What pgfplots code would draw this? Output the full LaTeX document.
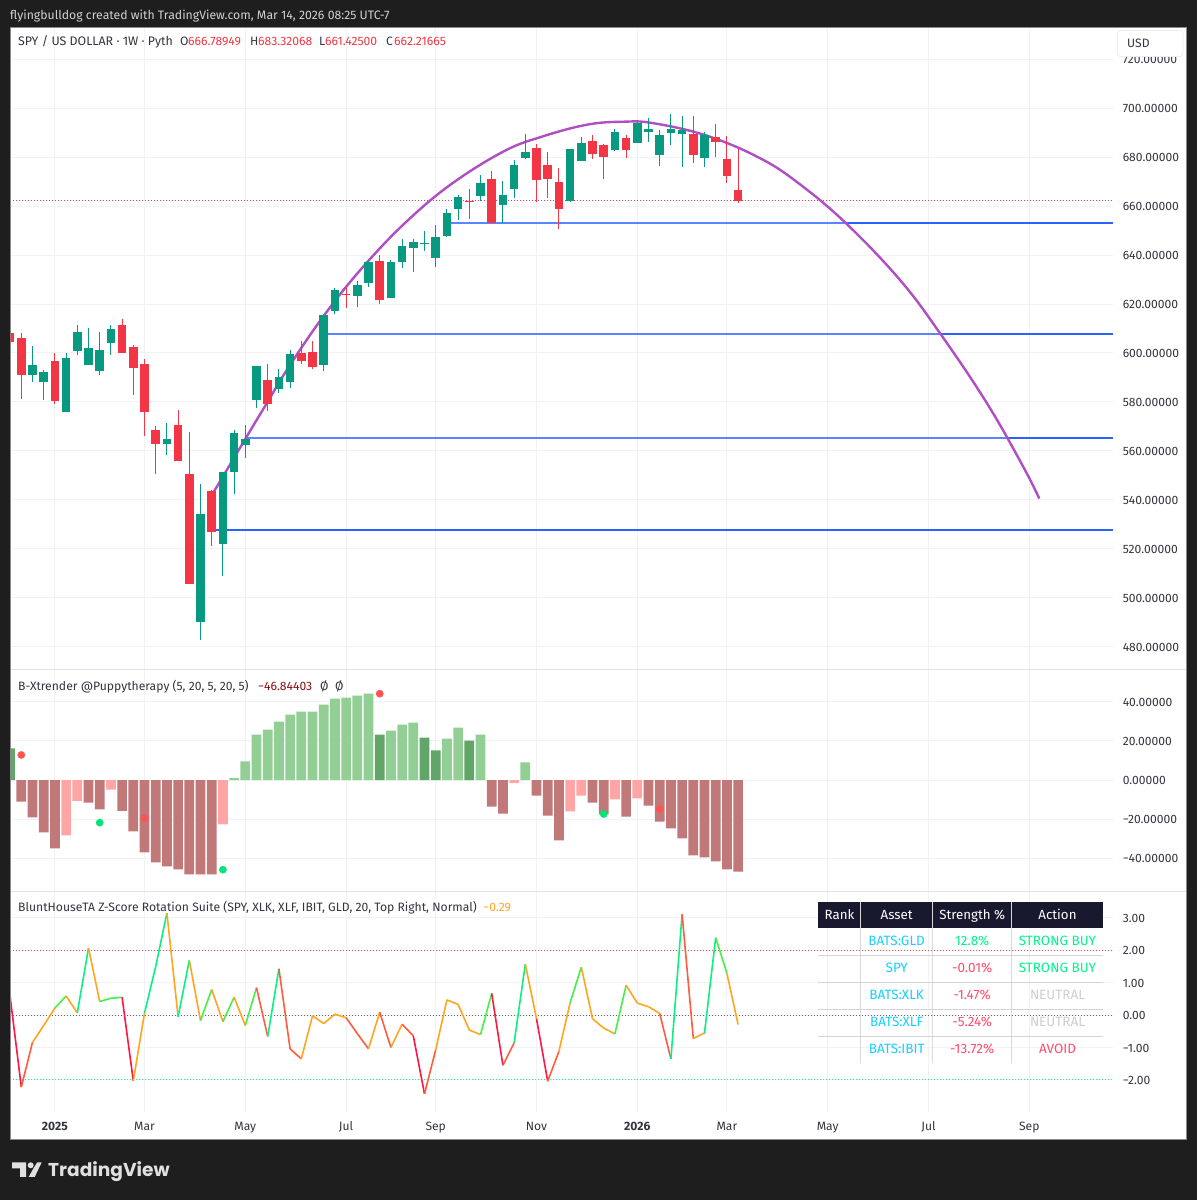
\documentclass[border=0pt]{standalone}
\usepackage{fontspec}
\setmainfont{Fira Sans}
\newfontfamily\logofont{Poppins}
\usepackage{pgfplots}
\usepackage{pgfplotstable}
\pgfplotsset{compat=1.18}
\definecolor{bgdark}{HTML}{1E1E1E}
\definecolor{framec}{HTML}{8A8A8A}
\definecolor{gridc}{HTML}{F1F2F5}
\definecolor{sepc}{HTML}{E0E3EB}
\definecolor{txt}{HTML}{33363F}
\definecolor{cgreen}{HTML}{089981}
\definecolor{cred}{HTML}{F23645}
\definecolor{lvblue}{HTML}{2962FF}
\definecolor{lvblue2}{RGB}{88,134,255}
\definecolor{arc}{HTML}{B04FC3}
\definecolor{hdr}{HTML}{18182F}
\definecolor{tcyan}{HTML}{18CFFF}
\definecolor{tgreen}{HTML}{00F58A}
\definecolor{tred}{HTML}{FF4D6D}
\definecolor{tgray}{HTML}{CFCFCF}
\definecolor{tline}{HTML}{D1D4DC}
\definecolor{hdred}{RGB}{192,120,120}
\definecolor{hlred}{RGB}{255,165,165}
\definecolor{hlgreen}{RGB}{146,207,148}
\definecolor{hdgreen}{RGB}{98,165,104}
\definecolor{dotred}{RGB}{255,82,82}
\definecolor{dotgreen}{RGB}{0,230,118}
\definecolor{lvlgreen}{RGB}{30,235,150}
\definecolor{valred}{RGB}{136,14,20}
\definecolor{valorange}{RGB}{255,167,38}

\pgfplotstableread{
i top bot high low
2 595.2 591.0 602.7 588.1
3 592.1 588.1 592.9 580.8
5 597.8 576.0 599.8 576.0
6 608.4 600.8 611.3 599.2
7 602.1 595.1 610.3 595.1
8 601.1 592.6 608.4 591.0
9 610.0 604.1 611.3 599.2
14 565.0 563.0 571.5 558.5
17 534.4 489.9 546.3 482.9
19 551.2 521.9 551.2 508.8
20 567.4 551.3 568.5 542.3
21 565.0 562.6 570.5 556.9
22 594.5 580.9 594.5 577.5
24 590.0 585.4 593.3 583.6
25 599.4 588.1 601.1 585.7
28 615.4 595.1 615.4 592.6
29 625.8 617.1 626.6 616.0
31 627.7 623.1 629.5 618.7
32 637.1 628.8 637.5 626.9
34 637.1 622.3 637.9 622.3
35 643.6 637.2 646.5 634.8
36 645.3 643.0 646.5 633.1
37 645.0 644.6 649.8 641.7
38 647.2 639.0 652.2 635.2
39 657.4 647.7 659.0 647.5
40 663.8 658.9 664.6 654.5
42 669.3 664.1 672.9 662.0
44 664.4 660.4 670.1 653.0
45 677.0 666.9 678.7 663.5
46 682.1 679.8 689.6 679.4
50 683.2 662.1 683.2 661.8
51 685.7 678.6 688.1 678.6
54 690.2 683.0 691.5 682.7
56 693.9 686.0 695.2 686.0
57 691.4 690.5 695.9 686.2
58 689.0 681.1 691.1 676.4
59 691.4 690.0 697.5 685.0
60 691.0 689.5 696.9 676.2
62 689.1 679.8 690.1 675.8
}\greenC
\pgfplotstableread{
i top bot high low
0 608.0 604.5 608.7 602.8
1 606.2 591.0 608.0 581.2
4 596.6 580.5 599.8 579.0
10 611.3 600.0 613.7 600.0
11 602.3 593.8 603.1 582.8
12 595.7 576.0 597.4 566.2
13 568.5 563.0 570.0 550.4
15 570.5 555.7 576.7 555.7
16 550.6 505.7 567.8 505.7
18 543.8 526.8 544.2 521.1
23 588.8 579.3 595.7 576.4
26 599.8 596.6 605.0 595.7
27 600.2 594.1 604.7 593.3
30 624.3 623.9 627.0 618.2
33 637.5 621.8 640.0 619.9
41 662.3 661.8 667.2 654.7
43 670.9 653.0 674.2 653.0
47 683.8 670.5 685.4 661.5
48 676.8 671.1 682.1 663.5
49 669.9 658.7 675.5 650.8
52 686.5 681.5 689.1 679.3
53 685.0 680.2 685.4 671.1
55 687.7 683.1 689.0 679.7
61 689.4 681.1 696.9 677.8
63 688.1 686.4 693.6 680.1
64 679.1 672.5 688.7 669.6
65 666.8 662.2 683.3 661.4
}\redC

\pgfplotstableread{
i v
1 -11.1
2 -19.1
3 -26.7
4 -34.9
7 -11.6
8 -15.0
10 -15.7
11 -26.2
12 -37.0
13 -42.1
14 -44.1
15 -45.7
16 -48.2
17 -48.2
18 -48.2
43 -13.6
44 -17.2
47 -8.0
48 -18.2
49 -30.8
52 -11.6
53 -17.5
55 -18.7
57 -13.1
58 -21.3
59 -24.7
60 -29.8
61 -38.5
62 -39.5
63 -41.6
64 -45.7
65 -46.84
}\hDarkRed
\pgfplotstableread{
i v
5 -28.3
6 -10.6
9 -4.9
19 -22.7
45 -1.4
50 -16.0
51 -8.0
54 -9.9
56 -9.4
}\hLightRed
\pgfplotstableread{
i v
20 1.0
21 9.5
22 23.2
23 25.7
24 29.8
25 33.4
26 34.9
27 34.9
28 38.5
29 41.6
30 42.1
31 43.1
32 44.1
34 25.2
35 28.3
36 29.3
39 21.1
40 26.7
42 23.2
46 9.0
}\hLightGreen
\pgfplotstableread{
i v
0 16.2
33 23.2
37 21.6
38 15.2
41 20.1
}\hDarkGreen

\pgfplotstableread{
i z c
0 0.58 0
1 -2.22 1
2 -0.84 2
3 -0.32 2
4 0.22 3
5 0.59 2
6 0.07 4
7 2.07 2
8 0.42 3
9 0.52 3
10 0.55 0
11 -2.03 2
12 0.06 4
13 1.50 4
14 3.15 2
15 -0.05 4
16 1.69 2
17 -0.17 3
18 0.79 2
19 -0.20 3
20 0.55 2
21 -0.32 3
22 0.85 1
23 -0.66 4
24 1.43 1
25 -1.04 1
26 -1.35 2
27 -0.02 2
28 -0.26 2
29 0.03 2
30 -0.08 1
31 -0.57 1
32 -1.04 2
33 0.09 1
34 -1.00 2
35 -0.28 1
36 -0.64 0
37 -2.43 1
38 -1.07 2
39 0.47 2
40 0.33 2
41 -0.46 2
42 -0.60 3
43 0.67 0
44 -1.55 1
45 -0.86 4
46 1.57 2
47 -0.11 0
48 -2.04 1
49 -1.12 2
50 0.38 3
51 1.48 2
52 -0.11 2
53 -0.40 2
54 -0.58 3
55 0.92 2
56 0.37 2
57 0.26 2
58 0.05 1
59 -1.35 4
60 3.12 1
61 -0.72 2
62 -0.55 4
63 2.39 3
64 1.29 2
65 -0.29 2
}\zscore

\pgfplotsset{
  panestyle/.style={
    scale only axis, width=1102pt, anchor=south west,
    xmin=0.08, xmax=98.47,
    xtick={4,12,21,30,38,47,56,64,73,82,91},
    xticklabels={},
    grid=major, grid style={color=gridc, line width=1pt},
    axis line style={draw=none}, tick style={draw=none},
    major tick length=0pt,
    yticklabel pos=right,
    y tick label style={anchor=west, xshift=9.6pt, yshift=-0.6pt, text=txt, inner sep=0pt, font=\fontsize{12.1}{13}\selectfont},
    x tick label style={text=txt, font=\fontsize{12.1}{13}\selectfont},
  },
  lvline/.style={color=lvblue, line width=1.8pt, forget plot},
  lvlineb/.style={color=lvblue2, line width=2pt, forget plot},
  wick/.style={draw=none, mark=none, forget plot, error bars/.cd, y dir=plus, y explicit, error mark=none,
     error bar style={line width=1pt, draw=#1}},
  body/.style={draw=none, mark=none, forget plot, error bars/.cd, y dir=plus, y explicit, error mark=none,
     error bar style={line width=8.6pt, draw=#1}},
  hist/.style={ybar, bar width=9.7pt, bar shift=0pt, draw=none, fill=#1},
}

\begin{document}
\begin{tikzpicture}
\begin{scope}[x=1pt,y=1pt]
\fill[bgdark] (0,0) rectangle (1197,1200);
\fill[white] (10.5,60.5) rectangle (1186.5,1172.5);
\draw[framec, line width=1pt] (10.5,60.5) rectangle (1186.5,1172.5);
\end{scope}

% price pane
\begin{axis}[panestyle, at={(11pt,530pt)}, height=642pt, ymin=470.46, ymax=732.8,
  ytick={480,500,520,540,560,580,600,620,640,660,680,700,720},
  yticklabels={480.00000,500.00000,520.00000,540.00000,560.00000,580.00000,600.00000,620.00000,640.00000,660.00000,680.00000,700.00000,720.00000}]
\addplot[color=cred, line width=0.9pt, dash pattern=on 1pt off 2pt, forget plot] coordinates {(0,662.2) (99,662.2)};
\addplot[lvlineb] coordinates {(39,653.0) (74.7,653.0)};
\addplot[lvline] coordinates {(74.7,653.0) (99,653.0)};
\addplot[lvlineb] coordinates {(28,607.6) (83.1,607.6)};
\addplot[lvline] coordinates {(83.1,607.6) (99,607.6)};
\addplot[lvlineb] coordinates {(21,565.3) (89,565.3)};
\addplot[lvline] coordinates {(89,565.3) (99,565.3)};
\addplot[lvline] coordinates {(18,527.6) (99,527.6)};
\addplot[color=arc, line width=2.4pt, smooth, tension=0.65, forget plot] coordinates {
(18.14,542.9)(22.91,579.45)(25.29,597.2)(28.56,618.6)(31.98,637.6)(35.71,655.05)
(39.57,669.6)(44.04,682.3)(47.31,688.15)(51.48,693.26)(54.75,694.5)(57.43,693.9)
(62.2,688.8)(66.96,679.6)(70.53,668.9)(74.7,652.7)(79.46,629.8)(83.03,608.05)
(87.2,579.6)(90.46,553.5)(91.89,540.5)};
\addplot[wick=cgreen] table[x=i, y=low, y error expr=\thisrow{high}-\thisrow{low}] {\greenC};
\addplot[wick=cred] table[x=i, y=low, y error expr=\thisrow{high}-\thisrow{low}] {\redC};
\addplot[body=cgreen] table[x=i, y=bot, y error expr=\thisrow{top}-\thisrow{bot}] {\greenC};
\addplot[body=cred] table[x=i, y=bot, y error expr=\thisrow{top}-\thisrow{bot}] {\redC};
\end{axis}

% B-Xtrender pane
\begin{axis}[panestyle, at={(11pt,308pt)}, height=222pt, ymin=-57.2, ymax=56.2,
  ytick={-40,-20,0,20,40},
  yticklabels={−40.00000,−20.00000,0.00000,20.00000,40.00000}]
\addplot[hist=hdred] table[x=i,y=v] {\hDarkRed};
\addplot[hist=hlred] table[x=i,y=v] {\hLightRed};
\addplot[hist=hlgreen] table[x=i,y=v] {\hLightGreen};
\addplot[hist=hdgreen] table[x=i,y=v] {\hDarkGreen};
\addplot[only marks, color=dotred, mark=*, mark size=3.6pt, mark options={draw=dotred, fill=dotred}]
  coordinates {(1,12.8) (12,-19.4) (33,44.1) (58,-14.8)};
\addplot[only marks, color=dotgreen, mark=*, mark size=3.6pt, mark options={draw=dotgreen, fill=dotgreen}]
  coordinates {(8,-21.8) (19,-45.8) (53,-17.4)};
\end{axis}

% Z-score pane
\begin{axis}[panestyle, at={(11pt,88pt)}, height=220pt, ymin=-2.99, ymax=3.80,
  ytick={-2,-1,0,1,2,3},
  yticklabels={−2.00,−1.00,0.00,1.00,2.00,3.00},
  xticklabels={\textbf{2025},Mar,May,Jul,Sep,Nov,\textbf{2026},Mar,May,Jul,Sep},
  x tick label style={yshift=-19pt, anchor=base},
  colormap={seg}{rgb255=(255,23,68) rgb255=(255,92,62) rgb255=(255,165,30) rgb255=(70,240,70) rgb255=(10,240,130)},
  point meta min=0, point meta max=4]
\addplot[color=red!70!white, line width=0.9pt, dash pattern=on 1pt off 2pt, forget plot] coordinates {(0,2) (99,2)};
\addplot[color=black!60, line width=0.8pt, dash pattern=on 1pt off 2pt, forget plot] coordinates {(0,0) (99,0)};
\addplot[color=lvlgreen, line width=0.9pt, dash pattern=on 1pt off 2pt, forget plot] coordinates {(0,-2) (99,-2)};
\addplot[mesh, shader=flat corner, line width=1.6pt, point meta=\thisrow{c}] table[x=i,y=z] {\zscore};
\end{axis}

\begin{scope}[x=1pt,y=1pt, every node/.style={inner sep=0pt}]
% separators
\draw[sepc, line width=1pt] (11,530) -- (1186,530);
\draw[sepc, line width=1pt] (11,308) -- (1186,308);
% header texts
\def\fs{\fontsize{12.15}{13}\selectfont}
\node[anchor=base west, text=white!82!black] at (10,1180.5) {\fontsize{12.25}{13}\selectfont flyingbulldog created with TradingView.com, Mar 14, 2026 08:25 UTC-7};
\node[anchor=base west, text=txt] at (18,1154) {\fontsize{12.4}{13}\selectfont SPY / US DOLLAR · 1W · Pyth};
\node[anchor=base west, text=txt] at (180,1154) {\fs O};
\node[anchor=base west, text=cred] at (188,1154) {\fs 666.78949};
\node[anchor=base west, text=txt] at (250,1154) {\fs H};
\node[anchor=base west, text=cred] at (258,1154) {\fs 683.32068};
\node[anchor=base west, text=txt] at (319,1154) {\fs L};
\node[anchor=base west, text=cred] at (325,1154) {\fs 661.42500};
\node[anchor=base west, text=txt] at (386,1154) {\fs C};
\node[anchor=base west, text=cred] at (394,1154) {\fs 662.21665};
% USD button
\filldraw[fill=white, draw=black!7, line width=0.8pt, rounded corners=3pt] (1117.5,1143.5) rectangle (1183,1169.5);
\node[anchor=base west, text=txt] at (1127,1152) {\fs USD};
% pane legends
\node[anchor=base west, text=txt] at (18,509.5) {\fs B-Xtrender @Puppytherapy (5, 20, 5, 20, 5)};
\node[anchor=base west, text=valred] at (258,509.5) {\fs −46.84403};
\node[anchor=base west, text=txt] at (320,509.5) {\fs Ø};
\node[anchor=base west, text=txt] at (335,509.5) {\fs Ø};
\node[anchor=base west, text=txt] at (18,288) {\fs BluntHouseTA Z-Score Rotation Suite (SPY, XLK, XLF, IBIT, GLD, 20, Top Right, Normal)};
\node[anchor=base west, text=valorange] at (483,288) {\fs −0.29};
% table
\fill[hdr] (818.3,271.7) rectangle (1103.3,297.7);
\foreach \xx in {860.7,932.7,1011.7} {
  \draw[white!85!black, line width=1pt] (\xx,137.3) -- (\xx,297.7);
}
\foreach \yy in {244.3,217.3,190.7,163.7} {
  \draw[tline, line width=0.9pt] (818.3,\yy) -- (1103.3,\yy);
}
\def\ts{\fontsize{13.5}{15}\selectfont}
\foreach \xx/\tt in {839.5/Rank,896.7/Asset,972.2/{Strength \%},1057.5/Action} {
  \node[anchor=base, text=white] at (\xx,280) {\fontsize{13.3}{15}\selectfont\tt};
}
\foreach \yy/\a/\b/\bc/\c/\cc in {
  254/BATS:GLD/12.8\%/tgreen/STRONG BUY/tgreen,
  227.4/SPY/-0.01\%/tred/STRONG BUY/tgreen,
  200.4/BATS:XLK/-1.47\%/tred/NEUTRAL/tgray,
  173.7/BATS:XLF/-5.24\%/tred/NEUTRAL/tgray,
  146.7/BATS:IBIT/-13.72\%/tred/AVOID/tred} {
  \node[anchor=base, text=tcyan] at (896.7,\yy) {\ts\a};
  \node[anchor=base, text=\bc] at (972.2,\yy) {\ts\b};
  \node[anchor=base, text=\cc] at (1057.5,\yy) {\ts\c};
}
% logo
\fill[white!88!black] (12,37.7) -- (26,37.7) -- (26,23) -- (20,23) -- (20,31.7) -- (12,31.7) -- cycle;
\fill[white!88!black] (30.7,34.7) circle (3pt);
\fill[white!88!black] (37.3,37.7) -- (41.7,37.7) -- (34.7,23) -- (28.7,23) -- (33.5,31.7) -- cycle;
\node[anchor=base west, text=white!88!black] at (48,23.5) {\logofont\bfseries\fontsize{18.6}{22}\selectfont TradingView};
\end{scope}
\end{tikzpicture}
\end{document}
